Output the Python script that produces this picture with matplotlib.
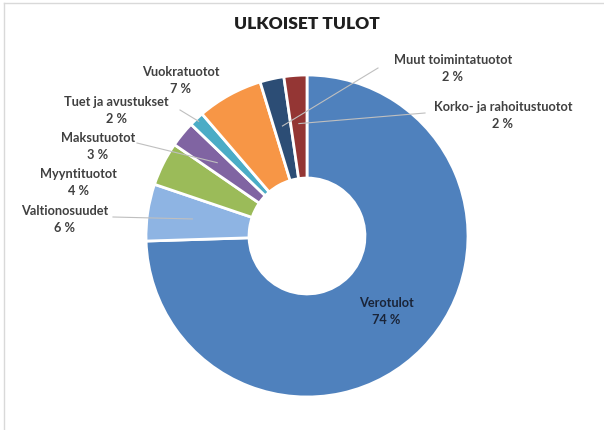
import numpy as np
import matplotlib
matplotlib.use("Agg")
import matplotlib.pyplot as plt
from matplotlib.lines import Line2D

# ---- data ----
categories = ["Verotulot", "Valtionosuudet", "Myyntituotot", "Maksutuotot",
              "Tuet ja avustukset", "Vuokratuotot", "Muut toimintatuotot",
              "Korko- ja rahoitustuotot"]
values = [74.5, 5.7, 4.4, 2.6, 1.5, 6.6, 2.4, 2.3]
percent_labels = ["74 %", "6 %", "4 %", "3 %", "2 %", "7 %", "2 %", "2 %"]
colors = ["#4F81BD", "#8EB4E3", "#9BBB59", "#8064A2", "#4BACC6",
          "#F79646", "#2C4D75", "#943634"]
title = "ULKOISET TULOT"

# ---- layout (pixel coordinates, y measured from top) ----
W, H = 604, 430
cx, cy, R = 307, 236, 161
hole = 0.36
# label centre positions (x, y of first line)
label_pos = [(386, 303), (65, 211), (78, 174), (98, 138), (116, 102),
             (181, 72), (453, 60), (503, 107)]
# leader line: start point near label and radius fraction of slice anchor (None = no line)
leaders = [None, ((113, 217), 0.72), None, ((137, 143), 0.72), ((180, 110), 0.98),
           None, ((378, 68), 0.7), ((425, 113), 0.7)]

fig = plt.figure(figsize=(W / 100, H / 100), dpi=100)
ax = fig.add_axes([0, 0, 1, 1])

wedges, _ = ax.pie(values, colors=colors, startangle=90, counterclock=False,
                   center=(cx, H - cy), radius=R,
                   wedgeprops=dict(width=R * (1 - hole), edgecolor="white", linewidth=2))
ax.set_xlim(0, W)
ax.set_ylim(0, H)
ax.set_aspect("equal")
ax.axis("off")

font = ["Lato", "DejaVu Sans"]
txt_color = "#404040"

# cumulative angles
angles = []
a = 90.0
for v in values:
    span = v / sum(values) * 360.0
    angles.append(a - span / 2)
    a -= span

for i, cat in enumerate(categories):
    lx, ly = label_pos[i]
    col = "#1A2438" if i == 0 else txt_color
    ax.text(lx, H - ly, cat, ha="center", va="center", fontsize=9.2,
            fontweight="bold", color=col, family=font)
    ax.text(lx, H - ly - 17, percent_labels[i], ha="center", va="center",
            fontsize=9.2, fontweight="bold", color=col, family=font)
    if leaders[i] is not None:
        (sx, sy), rf = leaders[i]
        th = np.deg2rad(angles[i])
        ex = cx + R * rf * np.cos(th)
        ey = (H - cy) + R * rf * np.sin(th)
        ax.add_line(Line2D([sx, ex], [H - sy, ey], color="#BFBFBF", lw=0.8, zorder=5))

ax.text(307, H - 24, title, ha="center", va="center", fontsize=12.5,
        fontweight="heavy", color="#1F1F1F", family=font)

# frame lines like the screenshot
ax.add_line(Line2D([4, W], [H - 3, H - 3], color="#D9D9D9", lw=1))
ax.add_line(Line2D([4, 4], [0, H - 3], color="#D9D9D9", lw=1))

fig.savefig("out.png", dpi=100)
